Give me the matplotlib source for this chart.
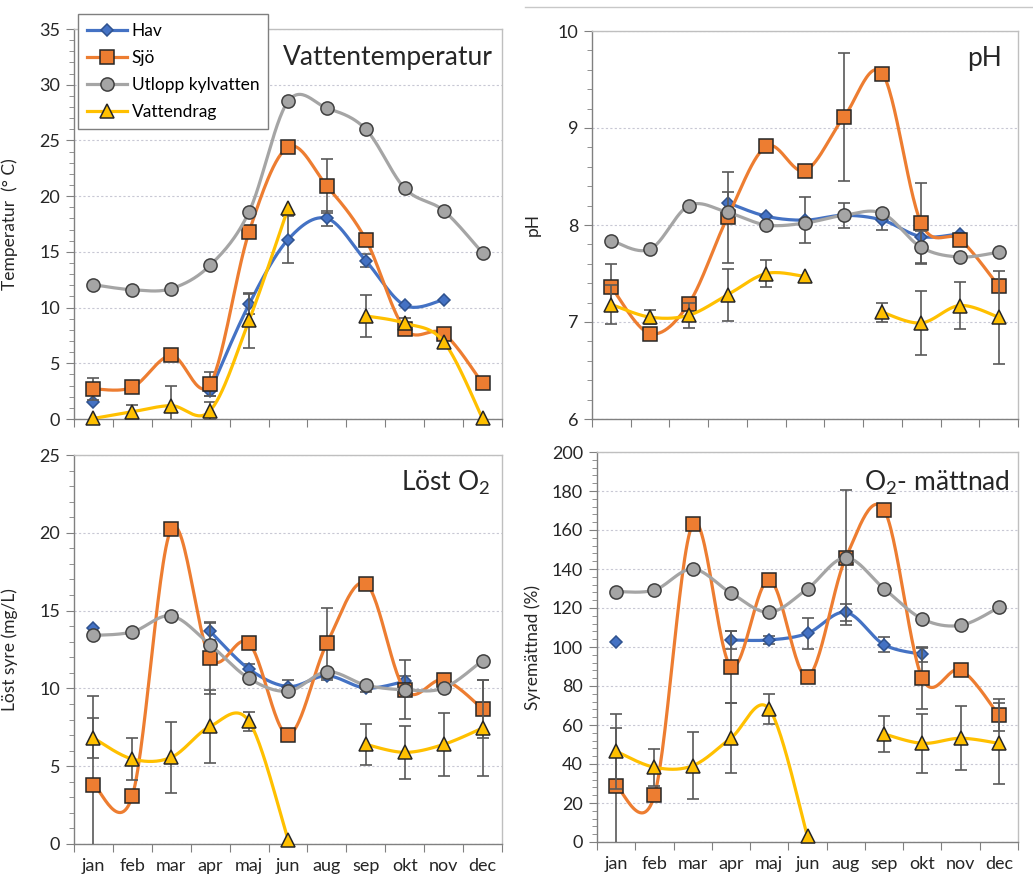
import numpy as np
import matplotlib
matplotlib.use('Agg')
import matplotlib.pyplot as plt
from matplotlib.lines import Line2D
from matplotlib.ticker import MultipleLocator, FixedLocator, NullFormatter

plt.rcParams['font.family'] = ['Lato', 'DejaVu Sans']
plt.rcParams['mathtext.fontset'] = 'custom'
plt.rcParams['mathtext.rm'] = 'Lato'

nan = np.nan
months = ['jan', 'feb', 'mar', 'apr', 'maj', 'jun', 'aug', 'sep', 'okt', 'nov', 'dec']
series_names = ['Hav', 'Sjö', 'Utlopp kylvatten', 'Vattendrag']

# Vattentemperatur (°C)
temp_hav = [1.5, nan, nan, 2.5, 10.3, 16.1, 18.0, 14.2, 10.2, 10.7, nan]
temp_hav_err = [nan, nan, nan, 0.4, 0.9, 2.1, 0.7, 0.6, nan, nan, nan]
temp_sjo = [2.7, 2.85, 5.7, 3.15, 16.8, 24.4, 20.9, 16.1, 8.1, 7.65, 3.2]
temp_sjo_err = [1.0, nan, nan, 1.1, nan, nan, 2.4, nan, nan, nan, nan]
temp_utl = [12.05, 11.6, 11.7, 13.8, 18.6, 28.5, 27.9, 26.0, 20.7, 18.7, 14.9]
temp_utl_err = [nan] * 11
temp_vat = [0.05, 0.65, 1.2, 0.75, 8.85, 18.9, nan, 9.25, 8.6, 6.95, 0.05]
temp_vat_err = [nan, 0.6, 1.8, 0.8, 2.45, nan, nan, 1.9, 0.5, nan, nan]

# pH
ph_hav = [nan, nan, nan, 8.23, 8.09, 8.05, 8.10, 8.05, 7.88, 7.91, nan]
ph_hav_err = [nan, nan, nan, 0.11, nan, 0.24, 0.13, 0.1, nan, nan, nan]
ph_sjo = [7.36, 6.88, 7.19, 8.08, 8.81, 8.56, 9.11, 9.56, 8.02, 7.85, 7.37]
ph_sjo_err = [0.24, nan, nan, 0.47, nan, nan, 0.66, nan, 0.41, nan, nan]
ph_utl = [7.84, 7.75, 8.20, 8.13, 8.00, 8.02, 8.10, 8.12, 7.77, 7.67, 7.72]
ph_utl_err = [nan, nan, nan, nan, nan, nan, nan, nan, 0.17, nan, nan]
ph_vat = [7.18, 7.05, 7.07, 7.28, 7.50, 7.47, nan, 7.10, 6.99, 7.17, 7.05]
ph_vat_err = [0.2, 0.07, 0.13, 0.27, 0.14, nan, nan, 0.1, 0.33, 0.24, 0.48]

# Löst syre (mg/L)
o2_hav = [13.87, nan, nan, 13.66, 11.24, 10.12, 10.81, 10.02, 10.45, nan, nan]
o2_hav_err = [nan, nan, nan, 0.57, 0.3, 0.45, 0.3, 0.25, 0.35, nan, nan]
o2_sjo = [3.81, 3.10, 20.25, 11.96, 12.9, 7.02, 12.9, 16.74, 9.91, 10.55, 8.69]
o2_sjo_err = [5.7, nan, nan, 2.3, nan, nan, 2.25, nan, 1.9, nan, 1.86]
o2_utl = [13.4, 13.63, 14.66, 12.8, 10.64, 9.82, 11.07, 10.21, 9.91, 10.02, 11.79]
o2_utl_err = [nan] * 11
o2_vat = [6.81, 5.46, 5.57, 7.56, 7.88, 0.28, nan, 6.4, 5.89, 6.4, 7.45]
o2_vat_err = [1.26, 1.37, 2.3, 2.35, 0.6, nan, nan, 1.3, 1.7, 2.0, 3.1]

# Syremättnad (%)
sat_hav = [102.7, nan, nan, 103.6, 103.6, 107, 117.8, 101.2, 96.2, nan, nan]
sat_hav_err = [nan, nan, nan, 4.4, 2, 8, 4.4, 4, 4, nan, nan]
sat_sjo = [28.7, 23.9, 163, 89.9, 134.4, 84.8, 145.8, 170.4, 83.9, 88.2, 65]
sat_sjo_err = [29.6, nan, nan, 18.5, nan, nan, 34.7, nan, 15.7, nan, 8.3]
sat_utl = [128.4, 129.2, 140, 127.7, 117.8, 129.9, 145.8, 129.9, 114.4, 111.1, 120.3]
sat_utl_err = [nan] * 11
sat_vat = [46.5, 38.3, 39.1, 53.3, 68.2, 2.9, nan, 55.4, 50.6, 53.2, 50.6]
sat_vat_err = [19.3, 9.4, 17.3, 17.9, 7.5, nan, nan, 9.4, 15.2, 16.4, 20.9]

styles = [
    dict(color='#4472C4', marker='D', ms=6.5, mfc='#4472C4', mec='#2F528F'),
    dict(color='#ED7D31', marker='s', ms=9.5, mfc='#ED7D31', mec='#262626'),
    dict(color='#A5A5A5', marker='o', ms=9.5, mfc='#A5A5A5', mec='#404040'),
    dict(color='#FFC000', marker='^', ms=9.5, mfc='#FFC000', mec='#262626'),
]


def smooth_runs(ys, n=30):
    """Excel-like smoothed line: cubic Bezier through each contiguous run."""
    x = np.arange(len(ys), dtype=float)
    y = np.array(ys, dtype=float)
    ok = ~np.isnan(y)
    runs, cur = [], []
    for i in range(len(y)):
        if ok[i]:
            cur.append(i)
        else:
            if cur:
                runs.append(cur)
            cur = []
    if cur:
        runs.append(cur)
    out = []
    t = np.linspace(0, 1, n)
    for r in runs:
        if len(r) < 2:
            continue
        px, py = x[r], y[r]
        m = len(r)
        sx, sy = [], []
        for i in range(m - 1):
            i0 = max(i - 1, 0)
            i3 = min(i + 2, m - 1)
            p1 = np.array([px[i], py[i]])
            p2 = np.array([px[i + 1], py[i + 1]])
            p0 = np.array([px[i0], py[i0]])
            p3 = np.array([px[i3], py[i3]])
            c1 = p1 + (p2 - p0) / 6
            c2 = p2 - (p3 - p1) / 6
            b = (np.outer((1 - t) ** 3, p1) + np.outer(3 * (1 - t) ** 2 * t, c1)
                 + np.outer(3 * (1 - t) * t ** 2, c2) + np.outer(t ** 3, p2))
            sx.extend(b[:, 0])
            sy.extend(b[:, 1])
        out.append((sx, sy))
    return out


fig = plt.figure(figsize=(10.33, 8.85), dpi=100)
W, H = 1033, 885


def make_ax(l, r, t, b):
    return fig.add_axes([l / W, 1 - b / H, (r - l) / W, (b - t) / H])


panels = [
    dict(box=(74, 502, 29, 419), data=[(temp_hav, temp_hav_err), (temp_sjo, temp_sjo_err),
                                       (temp_utl, temp_utl_err), (temp_vat, temp_vat_err)],
         ylim=(0, 35), major=5, minor=1, ylabel='Temperatur  (° C)', title='Vattentemperatur',
         tpos=(0.979, 0.928), xlabels=False),
    dict(box=(592, 1018, 31, 419), data=[(ph_hav, ph_hav_err), (ph_sjo, ph_sjo_err),
                                         (ph_utl, ph_utl_err), (ph_vat, ph_vat_err)],
         ylim=(6, 10), major=1, minor=0.2, ylabel='pH', title='pH',
         tpos=(0.962, 0.93), xlabels=False),
    dict(box=(74, 502, 455, 844), data=[(o2_hav, o2_hav_err), (o2_sjo, o2_sjo_err),
                                        (o2_utl, o2_utl_err), (o2_vat, o2_vat_err)],
         ylim=(0, 25), major=5, minor=1, ylabel='Löst syre (mg/L)', title=r'Löst O$_\mathregular{2}$',
         tpos=(0.972, 0.928), xlabels=True),
    dict(box=(597, 1018, 452, 842), data=[(sat_hav, sat_hav_err), (sat_sjo, sat_sjo_err),
                                          (sat_utl, sat_utl_err), (sat_vat, sat_vat_err)],
         ylim=(0, 200), major=20, minor=4, ylabel='Syremättnad (%)', title=r'O$_\mathregular{2}$- mättnad',
         tpos=(0.981, 0.92), xlabels=True),
]

x = np.arange(len(months))
for p in panels:
    ax = make_ax(*p['box'])
    ax.set_xlim(-0.5, 10.5)
    ax.set_ylim(*p['ylim'])
    for k, ((vals, errs), st) in enumerate(zip(p['data'], styles)):
        z = 3 + k
        v = np.array(vals, dtype=float)
        e = np.array(errs, dtype=float)
        m = ~np.isnan(e) & ~np.isnan(v)
        if m.any():
            ax.errorbar(x[m], v[m], yerr=e[m], fmt='none', ecolor='#595959',
                        elinewidth=1.2, capsize=4.5, capthick=1.2, zorder=z)
        for sx, sy in smooth_runs(vals):
            ax.plot(sx, sy, color=st['color'], lw=2.3, zorder=z, clip_on=False,
                    solid_capstyle='round')
        ax.plot(x, v, ls='none', marker=st['marker'], ms=st['ms'], mfc=st['mfc'],
                mec=st['mec'], mew=1.1, zorder=z + 0.5, clip_on=False)

    ax.yaxis.set_major_locator(MultipleLocator(p['major']))
    ax.yaxis.set_minor_locator(MultipleLocator(p['minor']))
    ax.grid(axis='y', which='major', color='#c8c8d4', ls=(0, (2, 2)), lw=0.8)
    ax.set_axisbelow(True)
    ax.tick_params(axis='y', which='major', direction='out', length=6, color='#808080',
                   labelsize=13, labelcolor='#262626', pad=4)
    ax.tick_params(axis='y', which='minor', direction='out', length=3.5, color='#808080')

    # tick marks between months, month names centred under each point
    ax.xaxis.set_major_locator(FixedLocator(np.arange(-0.5, 11, 1)))
    ax.xaxis.set_major_formatter(NullFormatter())
    ax.xaxis.set_minor_locator(FixedLocator(x))
    if p['xlabels']:
        ax.set_xticklabels(months, minor=True)
    else:
        ax.xaxis.set_minor_formatter(NullFormatter())
    ax.tick_params(axis='x', which='major', direction='out', length=6, color='#808080')
    ax.tick_params(axis='x', which='minor', length=0, labelsize=13,
                   labelcolor='#262626', pad=10)

    ax.spines['left'].set_color('#808080')
    ax.spines['bottom'].set_color('#808080')
    ax.spines['top'].set_color('#bfbfbf')
    ax.spines['right'].set_color('#bfbfbf')
    for s in ax.spines.values():
        s.set_linewidth(1.0)

    ax.set_ylabel(p['ylabel'], fontsize=12.5, color='#262626')
    label_x = 18 if p['box'][0] < 300 else 541
    ax.yaxis.set_label_coords((label_x - p['box'][0]) / (p['box'][1] - p['box'][0]), 0.5)
    ax.text(p['tpos'][0], p['tpos'][1], p['title'], transform=ax.transAxes,
            ha='right', va='center', fontsize=19, color='#262626', zorder=10)

handles = [Line2D([], [], color=st['color'], lw=2.3, marker=st['marker'], ms=st['ms'],
                  mfc=st['mfc'], mec=st['mec'], mew=1.1) for st in styles]
leg = fig.legend(handles, series_names, loc='upper left',
                 bbox_to_anchor=(78 / W, 1 - 14 / H), borderaxespad=0,
                 frameon=True, fancybox=False, edgecolor='#7f7f7f', framealpha=1,
                 fontsize=12.5, handlelength=2.3, labelspacing=0.64,
                 borderpad=0.5, handletextpad=0.3)
leg.get_frame().set_linewidth(1.0)
leg.set_zorder(20)

# thin separator line at the top of the right half
fig.add_artist(Line2D([525 / W, 1.0], [1 - 7 / H, 1 - 7 / H], color='#c8c8c8', lw=1.0))

fig.savefig('out.png', dpi=100)
